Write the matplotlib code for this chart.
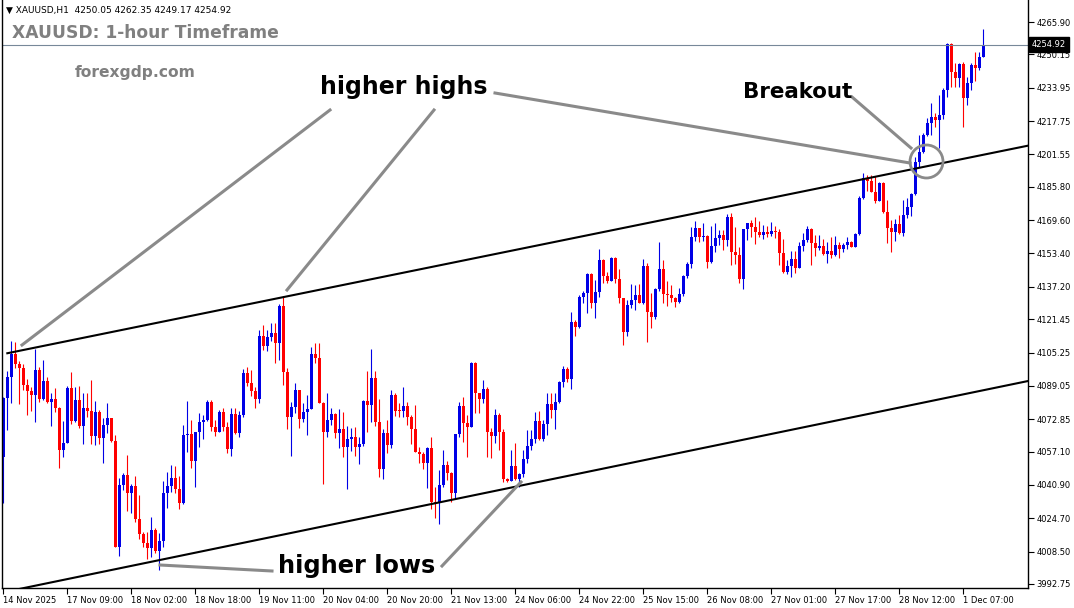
import numpy as np
import matplotlib
matplotlib.use('Agg')
import matplotlib.pyplot as plt
import matplotlib.transforms as mtransforms
from matplotlib.lines import Line2D
from matplotlib.patches import Ellipse


# ==============================================================
# DATA  (XAUUSD H1)
# ==============================================================

first_open = 4054.5

closes = [
    4083.2, 4093.5, 4104.4, 4099.6, 4097.9, 4089.5, 4086.7, 4084.8, 4096.8, 4082.8,
    4091.4, 4081.4, 4082.7, 4078.2, 4057.9, 4061.5, 4088.2, 4072.1, 4082.2, 4069.6,
    4078.5, 4076.9, 4064.7, 4076.5, 4063.9, 4070.0, 4073.6, 4062.3, 4010.9, 4040.9,
    4045.7, 4036.9, 4040.5, 4024.4, 4017.1, 4012.6, 4010.4, 4019.0, 4009.0, 4013.7,
    4036.9, 4040.4, 4044.1, 4038.9, 4032.3, 4065.2, 4065.7, 4052.7, 4066.5, 4071.4,
    4072.5, 4081.2, 4069.2, 4066.6, 4076.4, 4069.2, 4058.5, 4075.4, 4066.0, 4074.9,
    4095.5, 4090.6, 4086.6, 4082.7, 4113.3, 4108.6, 4112.7, 4114.6, 4109.8, 4127.9,
    4096.0, 4074.1, 4078.9, 4087.1, 4073.0, 4076.4, 4078.0, 4104.6, 4102.5, 4080.9,
    4066.8, 4072.5, 4075.3, 4066.3, 4068.0, 4059.5, 4063.1, 4064.4, 4059.5, 4060.8,
    4081.9, 4079.8, 4093.0, 4071.7, 4048.7, 4066.0, 4060.3, 4084.6, 4077.0, 4076.9,
    4079.3, 4073.8, 4068.1, 4057.1, 4055.8, 4051.7, 4058.7, 4032.8, 4032.0, 4040.9,
    4050.6, 4046.6, 4036.9, 4065.7, 4079.3, 4071.2, 4069.2, 4100.0, 4085.5, 4082.5,
    4087.5, 4066.8, 4064.8, 4074.9, 4066.8, 4043.7, 4042.8, 4050.1, 4043.9, 4046.1,
    4053.4, 4059.8, 4063.1, 4072.0, 4063.1, 4070.4, 4080.1, 4077.3, 4081.1, 4091.1,
    4097.1, 4092.4, 4120.3, 4117.8, 4132.4, 4134.3, 4143.3, 4129.2, 4134.5, 4150.2,
    4142.5, 4140.0, 4151.1, 4141.0, 4131.9, 4115.4, 4128.4, 4130.8, 4133.2, 4129.2,
    4147.3, 4124.8, 4122.7, 4136.1, 4145.9, 4133.7, 4133.2, 4131.9, 4130.0, 4133.6,
    4142.5, 4148.2, 4161.6, 4165.6, 4161.6, 4161.9, 4149.4, 4157.0, 4160.8, 4162.4,
    4160.0, 4171.3, 4154.0, 4152.7, 4141.0, 4165.2, 4168.1, 4166.4, 4164.0, 4162.4,
    4164.0, 4162.9, 4164.3, 4164.0, 4153.8, 4144.6, 4147.5, 4150.7, 4146.5, 4157.0,
    4160.0, 4165.2, 4158.4, 4155.9, 4157.0, 4153.2, 4154.6, 4152.7, 4157.5, 4155.4,
    4157.5, 4159.1, 4156.7, 4162.9, 4180.5, 4189.9, 4188.8, 4183.4, 4178.9, 4187.5,
    4173.7, 4165.6, 4163.7, 4167.7, 4163.5, 4172.1, 4175.9, 4182.3, 4198.0, 4202.9,
    4211.0, 4216.7, 4219.9, 4218.3, 4220.7, 4232.9, 4255.2, 4241.8, 4238.5, 4245.4,
    4228.8, 4236.4, 4245.0, 4243.4, 4249.0, 4254.92,
]

highs = [
    4083.7, 4096.3, 4110.9, 4110.2, 4101.2, 4099.6, 4092.4, 4088.4, 4107.0, 4098.4,
    4101.6, 4093.5, 4085.7, 4087.9, 4078.8, 4072.1, 4089.0, 4096.0, 4088.4, 4089.0,
    4085.5, 4085.5, 4091.9, 4081.7, 4077.3, 4073.6, 4080.9, 4073.6, 4065.2, 4044.1,
    4046.6, 4055.5, 4041.4, 4045.3, 4036.0, 4017.9, 4017.9, 4025.2, 4019.8, 4017.4,
    4042.8, 4047.1, 4050.6, 4050.1, 4045.3, 4070.0, 4081.7, 4072.5, 4066.8, 4075.7,
    4074.9, 4082.2, 4082.2, 4072.5, 4077.3, 4078.5, 4071.7, 4078.2, 4078.2, 4076.9,
    4097.1, 4098.4, 4096.8, 4088.7, 4116.2, 4118.6, 4116.2, 4119.8, 4119.5, 4128.9,
    4132.7, 4097.6, 4081.4, 4090.6, 4087.1, 4080.9, 4084.6, 4108.1, 4109.8, 4109.8,
    4081.4, 4085.7, 4078.2, 4076.0, 4077.7, 4076.2, 4069.7, 4068.4, 4069.2, 4064.4,
    4082.2, 4096.3, 4107.0, 4096.3, 4082.5, 4068.0, 4072.5, 4087.1, 4085.5, 4080.6,
    4088.4, 4081.2, 4074.9, 4079.8, 4059.5, 4057.1, 4059.5, 4064.4, 4040.1, 4048.2,
    4057.9, 4052.6, 4047.1, 4065.7, 4081.4, 4083.8, 4074.9, 4100.8, 4100.8, 4085.7,
    4091.9, 4088.4, 4068.4, 4077.8, 4076.0, 4068.1, 4044.3, 4057.9, 4061.3, 4046.7,
    4057.9, 4067.6, 4067.6, 4076.5, 4076.9, 4072.5, 4085.7, 4085.7, 4085.5, 4091.4,
    4098.7, 4098.4, 4125.1, 4121.1, 4133.2, 4135.3, 4144.1, 4144.1, 4140.5, 4155.4,
    4150.6, 4144.6, 4151.8, 4151.8, 4145.9, 4131.9, 4130.8, 4138.6, 4138.1, 4138.4,
    4150.7, 4148.6, 4134.1, 4136.5, 4158.8, 4150.2, 4140.0, 4138.1, 4132.4, 4136.5,
    4142.9, 4149.4, 4166.4, 4169.2, 4165.9, 4168.4, 4162.4, 4166.8, 4168.1, 4164.8,
    4164.8, 4172.6, 4172.9, 4166.4, 4156.7, 4165.2, 4168.4, 4169.7, 4171.0, 4169.2,
    4167.2, 4166.8, 4168.9, 4166.8, 4165.2, 4160.3, 4150.2, 4154.8, 4154.6, 4159.1,
    4163.2, 4166.8, 4165.6, 4162.4, 4162.4, 4160.3, 4159.1, 4161.3, 4161.9, 4159.1,
    4158.6, 4161.6, 4159.6, 4163.5, 4181.5, 4192.7, 4191.5, 4191.5, 4191.2, 4188.1,
    4188.3, 4179.4, 4169.7, 4170.0, 4172.1, 4179.4, 4180.2, 4182.9, 4200.3, 4211.0,
    4212.0, 4219.3, 4226.5, 4221.7, 4230.4, 4233.7, 4255.8, 4255.8, 4245.8, 4246.1,
    4246.3, 4239.3, 4245.8, 4251.5, 4251.5, 4262.35,
]

lows = [
    4032.1, 4067.6, 4080.9, 4097.9, 4080.3, 4087.1, 4074.9, 4077.0, 4071.7, 4081.4,
    4082.2, 4080.6, 4069.6, 4076.5, 4049.3, 4054.6, 4064.4, 4070.5, 4071.5, 4068.4,
    4060.8, 4074.1, 4060.8, 4060.3, 4060.8, 4051.7, 4066.3, 4061.9, 4010.9, 4006.4,
    4038.5, 4028.3, 4027.1, 4022.8, 4014.6, 4010.9, 4004.8, 4005.8, 4007.7, 3999.6,
    4010.9, 4029.9, 4037.3, 4036.9, 4029.1, 4031.5, 4057.1, 4049.0, 4040.1, 4059.5,
    4063.1, 4072.0, 4067.3, 4064.7, 4067.6, 4067.3, 4056.3, 4055.1, 4065.7, 4064.4,
    4074.1, 4089.0, 4084.1, 4078.2, 4080.9, 4106.5, 4106.0, 4110.9, 4100.3, 4101.6,
    4089.5, 4068.0, 4055.1, 4076.0, 4068.7, 4071.4, 4065.2, 4077.7, 4100.0, 4080.9,
    4041.4, 4064.4, 4070.0, 4063.9, 4058.7, 4054.4, 4038.8, 4057.6, 4055.1, 4051.0,
    4059.8, 4066.8, 4071.7, 4069.6, 4044.6, 4043.7, 4056.3, 4058.7, 4074.4, 4074.1,
    4073.8, 4070.0, 4060.7, 4057.1, 4051.7, 4048.5, 4039.6, 4029.1, 4024.7, 4021.8,
    4040.1, 4043.3, 4032.8, 4034.6, 4064.4, 4061.9, 4054.6, 4069.2, 4076.0, 4076.0,
    4080.6, 4054.4, 4054.2, 4061.2, 4057.9, 4042.5, 4042.3, 4042.8, 4043.3, 4040.1,
    4044.9, 4051.7, 4057.9, 4061.2, 4062.8, 4062.3, 4065.2, 4073.3, 4068.1, 4080.6,
    4088.7, 4091.1, 4087.5, 4113.3, 4117.3, 4129.2, 4124.6, 4127.1, 4122.2, 4132.4,
    4139.2, 4139.2, 4140.5, 4139.2, 4129.5, 4108.9, 4113.3, 4126.8, 4125.9, 4129.2,
    4128.9, 4110.5, 4117.0, 4121.6, 4135.2, 4129.2, 4127.9, 4130.0, 4127.3, 4129.2,
    4132.7, 4141.6, 4146.5, 4159.5, 4159.1, 4159.5, 4146.5, 4148.6, 4154.3, 4157.5,
    4155.1, 4157.0, 4147.8, 4148.2, 4139.2, 4136.1, 4160.0, 4161.6, 4157.9, 4161.6,
    4160.4, 4161.6, 4162.0, 4161.1, 4147.8, 4143.8, 4143.4, 4142.1, 4144.1, 4146.2,
    4154.8, 4159.1, 4147.8, 4152.2, 4155.1, 4152.7, 4148.6, 4151.1, 4152.2, 4151.1,
    4154.3, 4155.4, 4156.4, 4156.4, 4162.4, 4179.9, 4183.9, 4183.1, 4178.1, 4179.4,
    4173.2, 4158.6, 4154.3, 4159.5, 4162.9, 4161.9, 4170.8, 4171.6, 4181.8, 4195.6,
    4202.2, 4210.5, 4211.0, 4215.0, 4204.5, 4218.6, 4229.3, 4234.5, 4234.5, 4234.5,
    4214.7, 4225.6, 4232.9, 4237.4, 4242.6, 4249.17,
]

date_labels = [
    '14 Nov 2025', '17 Nov 09:00', '18 Nov 02:00', '18 Nov 18:00', '19 Nov 11:00',
    '20 Nov 04:00', '20 Nov 20:00', '21 Nov 13:00', '24 Nov 06:00', '24 Nov 22:00',
    '25 Nov 15:00', '26 Nov 08:00', '27 Nov 01:00', '27 Nov 17:00', '28 Nov 12:00',
    '1 Dec 07:00',
]

price_ticks = [
    4265.90, 4250.15, 4233.95, 4217.75, 4201.55, 4185.80, 4169.60, 4153.40, 4137.20,
    4121.45, 4105.25, 4089.05, 4072.85, 4057.10, 4040.90, 4024.70, 4008.50, 3992.75,
]

last_price = 4254.92

# channel lines (bar index, price)
upper_line = ([1, 256.2], [4104.9, 4205.8])
lower_line = ([-0.3, 256.2], [3988.6, 4091.4])


# ==============================================================
# CHART
# ==============================================================

W, H = 1074, 608
BLUE = '#0000e6'
RED = '#ff0000'
GRAY = '#8a8a8a'


def fx(x):
    return x / W


def fy(y):
    return 1 - y / H


fig = plt.figure(figsize=(W / 100, H / 100), dpi=100)
ax = fig.add_axes([fx(2), 20 / H, (1028 - 2) / W, 588 / H])

closes = np.array(closes)
opens = np.r_[first_open, closes[:-1]]
highs = np.maximum(np.array(highs), np.maximum(opens, closes))
lows = np.minimum(np.array(lows), np.minimum(opens, closes))
idx = np.arange(len(closes))
colors = np.where(closes >= opens, BLUE, RED)

ax.vlines(idx, lows, highs, colors=colors, lw=0.8)
ax.bar(idx, np.maximum(np.abs(closes - opens), 0.45),
       bottom=np.minimum(opens, closes), width=0.75, color=colors, linewidth=0)

ax.plot(*upper_line, color='black', lw=1.5)
ax.plot(*lower_line, color='black', lw=1.5)
ax.axhline(last_price, color='#778899', lw=0.8)

ax.set_xlim(-0.33, 256.2)
ax.set_ylim(3990.8, 4276.6)

# axes / ticks
ax.spines['top'].set_visible(False)
for s in ['left', 'right', 'bottom']:
    ax.spines[s].set_color('black')
    ax.spines[s].set_linewidth(1.0)

ax.yaxis.tick_right()
ax.set_yticks(price_ticks)
ax.set_yticklabels(['%.2f' % v for v in price_ticks])
ax.set_xticks(np.arange(0, 16 * len(date_labels), 16))
ax.set_xticklabels(date_labels)
ax.tick_params(axis='both', direction='out', length=4, width=0.8,
               labelsize=6.0, colors='black', pad=2)
for lab in ax.get_xticklabels():
    lab.set_horizontalalignment('left')

trans = mtransforms.blended_transform_factory(ax.transAxes, ax.transData)
ax.text(1.004, last_price, '%.2f' % last_price, transform=trans, color='white',
        fontsize=6.0, va='center', ha='left', clip_on=False,
        bbox=dict(facecolor='black', edgecolor='black', pad=2.0))

# header texts
fig.text(fx(6), fy(10), '\u25bc XAUUSD,H1  4250.05 4262.35 4249.17 4254.92',
         fontsize=6.5, va='center', ha='left')
fig.text(fx(12), fy(33), 'XAUUSD: 1-hour Timeframe', fontsize=12.3,
         fontweight='bold', color='#808080', va='center', ha='left')
fig.text(fx(75), fy(73), 'forexgdp.com', fontsize=11.2,
         fontweight='bold', color='#808080', va='center', ha='left')

# annotations
fig.text(fx(404), fy(87), 'higher highs', fontsize=17, fontweight='bold',
         va='center', ha='center')
fig.text(fx(798), fy(92), 'Breakout', fontsize=15.4, fontweight='bold',
         va='center', ha='center')
fig.text(fx(357), fy(566), 'higher lows', fontsize=17.3, fontweight='bold',
         va='center', ha='center')

gray_lines = [
    ((330, 110), (22, 345)),
    ((434, 110), (287, 290)),
    ((495, 93), (910, 163)),
    ((852, 97), (911, 148)),
    ((160, 565), (272, 571)),
    ((442, 566), (521, 482)),
]
for (x0, y0), (x1, y1) in gray_lines:
    fig.add_artist(Line2D([fx(x0), fx(x1)], [fy(y0), fy(y1)],
                          transform=fig.transFigure, color=GRAY, lw=2.2))

fig.add_artist(Ellipse((fx(926.5), fy(161.5)), 33 / W, 33 / H,
                       transform=fig.transFigure, fill=False,
                       edgecolor=GRAY, lw=2.0))

fig.savefig('out.png', dpi=100)
